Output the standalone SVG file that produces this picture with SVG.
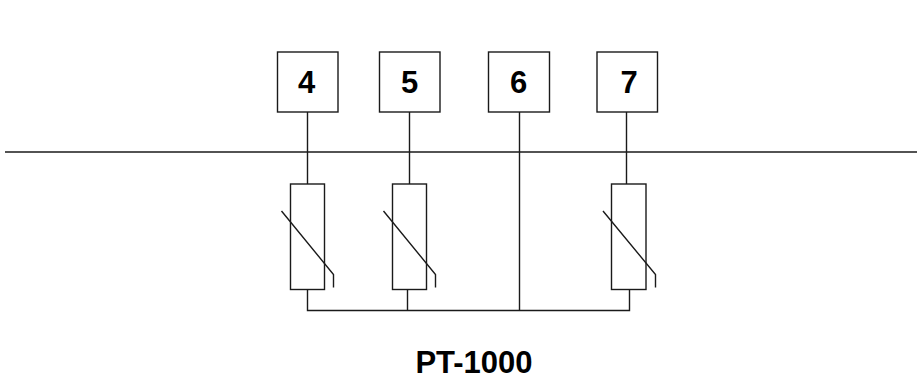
<svg xmlns="http://www.w3.org/2000/svg" width="917" height="380" viewBox="0 0 917 380">
<style>
.l{fill:none;stroke:#1a1a1a;stroke-width:1.4}
.b{fill:#fff;stroke:#1a1a1a;stroke-width:1.4}
.t{font-family:"Liberation Sans",Arial,sans-serif;font-weight:700;fill:#000;text-anchor:middle}
</style>
<rect width="917" height="380" fill="#fff"/>
<g id="connectors">
<path class="l" d="M5 152H917"/>
<path class="l" d="M307.5 112V184M409.5 112V184M519.5 112V310.5M626.5 112V184"/>
<path class="l" d="M307.5 289.500V310.500H629.500V289.500M407.500 289.500V310.500"/>
</g>
<g id="node-4"><rect class="b" x="277.500" y="52" width="60.500" height="60"/><text class="t" x="306.500" y="93" font-size="31">4</text></g>
<g id="node-5"><rect class="b" x="379.500" y="52" width="60.500" height="60"/><text class="t" x="409.500" y="93" font-size="31">5</text></g>
<g id="node-6"><rect class="b" x="488.500" y="52" width="61" height="60"/><text class="t" x="518.500" y="93" font-size="31">6</text></g>
<g id="node-7"><rect class="b" x="597" y="52" width="60.500" height="60"/><text class="t" x="629" y="93" font-size="31">7</text></g>
<g id="res-1"><rect class="b" x="290.500" y="184" width="34" height="105.500"/><path class="l" d="M281.500 211L333.500 274.500V287.500"/></g>
<g id="res-2"><rect class="b" x="392.500" y="184" width="34" height="105.500"/><path class="l" d="M383.500 211L435.500 274.500V287.500"/></g>
<g id="res-3"><rect class="b" x="611.500" y="184" width="34.500" height="105.500"/><path class="l" d="M603 211L655.500 274.500V287.500"/></g>
<text id="label" class="t" x="474" y="373" font-size="31">PT-1000</text>
</svg>
